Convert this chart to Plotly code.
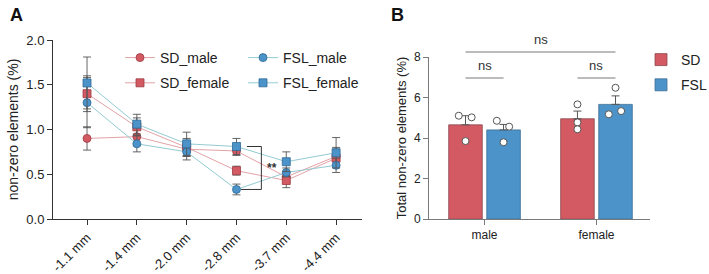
import plotly.graph_objects as go

# ---------------- data ----------------
positions = ["-1.1 mm", "-1.4 mm", "-2.0 mm", "-2.8 mm", "-3.7 mm", "-4.4 mm"]

sd_male = [0.90, 0.92, 0.78, 0.76, 0.47, 0.70]
sd_male_err = [0.13, 0.10, 0.08, 0.05, 0.06, 0.10]
sd_female = [1.40, 1.03, 0.80, 0.54, 0.43, 0.68]
sd_female_err = [0.20, 0.10, 0.10, 0.05, 0.08, 0.10]
fsl_male = [1.30, 0.84, 0.75, 0.33, 0.52, 0.60]
fsl_male_err = [0.28, 0.09, 0.09, 0.06, 0.05, 0.08]
fsl_female = [1.52, 1.06, 0.84, 0.81, 0.64, 0.74]
fsl_female_err = [0.29, 0.11, 0.13, 0.09, 0.11, 0.17]

sexes = ["male", "female"]
sd_total = [4.65, 4.95]
sd_total_err = [0.45, 0.38]
fsl_total = [4.40, 5.66]
fsl_total_err = [0.27, 0.42]
sd_points = [[5.10, 5.02, 3.85], [5.66, 4.77, 4.43]]
fsl_points = [[4.85, 4.56, 3.79], [6.48, 5.17, 5.33]]

# ---------------- styles ----------------
RED = "#d35a63"
RED_DARK = "#9c3a42"
RED_LINE = "#e3a2a7"
BLUE = "#4b93c9"
BLUE_DARK = "#2f6a96"
BLUE_LINE = "#93cbd3"
AX = "#333333"
AXB = "#7a7a7a"
FONT = "Liberation Sans, Arial, sans-serif"

fig = go.Figure()

def line_series(name, y, err, color, dark, lcolor, symbol, legend):
    fig.add_trace(go.Scatter(
        x=positions, y=y, name=name, mode="lines+markers", legendgroup=name,
        line=dict(color=lcolor, width=1),
        marker=dict(symbol=symbol, size=8, color=color, line=dict(color=dark, width=0.8)),
        error_y=dict(type="data", array=err, visible=True, color="#555555", thickness=0.9, width=4),
        xaxis="x", yaxis="y", legend=legend,
    ))

line_series("SD_male", sd_male, sd_male_err, RED, RED_DARK, RED_LINE, "circle", "legend")
line_series("SD_female", sd_female, sd_female_err, RED, RED_DARK, RED_LINE, "square", "legend")
line_series("FSL_male", fsl_male, fsl_male_err, BLUE, BLUE_DARK, BLUE_LINE, "circle", "legend2")
line_series("FSL_female", fsl_female, fsl_female_err, BLUE, BLUE_DARK, BLUE_LINE, "square", "legend2")

# ---- panel B bars ----
BW = 0.30
OFF = 0.17
xi = list(range(len(sexes)))
sd_x = [i - OFF for i in xi]
fsl_x = [i + OFF for i in xi]

fig.add_trace(go.Bar(
    x=sd_x, y=sd_total, width=BW, name="SD", legendgroup="SD",
    marker=dict(color=RED, line=dict(color="#8a4a50", width=0.8)),
    error_y=dict(type="data", array=sd_total_err, arrayminus=[0, 0], color="#555555", thickness=1, width=4),
    xaxis="x2", yaxis="y2", legend="legend3",
))
fig.add_trace(go.Bar(
    x=fsl_x, y=fsl_total, width=BW, name="FSL", legendgroup="FSL",
    marker=dict(color=BLUE, line=dict(color="#3f6f94", width=0.8)),
    error_y=dict(type="data", array=fsl_total_err, arrayminus=[0, 0], color="#555555", thickness=1, width=4),
    xaxis="x2", yaxis="y2", legend="legend3",
))

jitter = [[-0.06, 0.055, 0.0], [0.0, 0.0, 0.0]]
jitter_f = [[-0.06, 0.05, 0.0], [0.0, -0.06, 0.05]]
px, py = [], []
for i in xi:
    for k, v in enumerate(sd_points[i]):
        px.append(sd_x[i] + jitter[i][k]); py.append(v)
    for k, v in enumerate(fsl_points[i]):
        px.append(fsl_x[i] + jitter_f[i][k]); py.append(v)
fig.add_trace(go.Scatter(
    x=px, y=py, mode="markers", showlegend=False,
    marker=dict(symbol="circle", size=7, color="white", line=dict(color="#555555", width=1)),
    xaxis="x2", yaxis="y2",
))

# ---------------- layout ----------------
W, H = 709, 274
def fx(p): return p / W
def fy(p): return 1 - p / H

fig.update_layout(
    width=W, height=H, margin=dict(l=0, r=0, t=0, b=0, autoexpand=False),
    paper_bgcolor="white", plot_bgcolor="white",
    font=dict(family=FONT, color="#222222"),
    showlegend=True,
    xaxis=dict(
        domain=[fx(53), fx(362)], range=[-0.683, 5.52], type="category",
        showline=True, linecolor=AX, linewidth=1, ticks="outside", ticklen=5, tickcolor=AX,
        tickangle=-45, tickfont=dict(size=13), showgrid=False, zeroline=False, automargin=False,
        anchor="y",
    ),
    yaxis=dict(
        domain=[fy(219), fy(40)], range=[0, 2.0], tickvals=[0, 0.5, 1.0, 1.5, 2.0],
        ticktext=["0.0", "0.5", "1.0", "1.5", "2.0"],
        showline=True, linecolor=AX, linewidth=1, ticks="outside", ticklen=5, tickcolor=AX,
        tickfont=dict(size=13), showgrid=False, zeroline=False, automargin=False,
        title=dict(text="non-zero elements (%)", font=dict(size=14), standoff=4),
        anchor="x",
    ),
    xaxis2=dict(
        domain=[fx(429), fx(650)], range=[-0.496, 1.478],
        tickvals=xi, ticktext=sexes,
        showline=True, linecolor=AXB, linewidth=1, ticks="outside", ticklen=5, tickcolor=AXB,
        tickfont=dict(size=12), showgrid=False, zeroline=False, automargin=False,
        anchor="y2",
    ),
    yaxis2=dict(
        domain=[fy(219), fy(57)], range=[0, 8], tickvals=[0, 2, 4, 6, 8],
        showline=True, linecolor=AXB, linewidth=1, ticks="outside", ticklen=5, tickcolor=AXB,
        tickfont=dict(size=12), showgrid=False, zeroline=False, automargin=False,
        title=dict(text="Total non-zero elements (%)", font=dict(size=13), standoff=4),
        anchor="x2",
    ),
    legend=dict(x=fx(120), y=fy(42), xanchor="left", yanchor="top", font=dict(size=14),
                bgcolor="rgba(0,0,0,0)", tracegroupgap=4, itemwidth=30),
    legend2=dict(x=fx(243), y=fy(42), xanchor="left", yanchor="top", font=dict(size=14),
                 bgcolor="rgba(0,0,0,0)", tracegroupgap=4, itemwidth=30),
    legend3=dict(x=fx(641), y=fy(44), xanchor="left", yanchor="top", font=dict(size=14),
                 bgcolor="rgba(0,0,0,0)", tracegroupgap=4),
)

# significance bracket panel A
br = dict(type="line", xref="x", yref="y", line=dict(color=AX, width=1))
fig.add_shape(**br, x0=3.21, x1=3.5, y0=fsl_female[3], y1=fsl_female[3])
fig.add_shape(**br, x0=3.5, x1=3.5, y0=fsl_male[3], y1=fsl_female[3])
fig.add_shape(**br, x0=3.09, x1=3.5, y0=fsl_male[3], y1=fsl_male[3])
fig.add_annotation(x=3.72, y=(fsl_male[3] + fsl_female[3]) / 2, xref="x", yref="y", text="<b>**</b>",
                   showarrow=False, font=dict(size=12, color=AX))

# significance lines panel B
sl = dict(type="line", xref="x2", yref="paper", line=dict(color=AXB, width=1.2))
fig.add_shape(**sl, x0=sd_x[0], x1=fsl_x[1], y0=fy(52), y1=fy(52))
fig.add_shape(**sl, x0=sd_x[0], x1=fsl_x[0], y0=fy(78), y1=fy(78))
fig.add_shape(**sl, x0=sd_x[1], x1=fsl_x[1], y0=fy(78), y1=fy(78))
for xa, yp in [((sd_x[0] + fsl_x[1]) / 2, 39), (xi[0], 65), (xi[1], 65)]:
    fig.add_annotation(x=xa, y=fy(yp), xref="x2", yref="paper", text="ns", showarrow=False,
                       xanchor="center", yanchor="middle",
                       font=dict(size=13, color="#333333"))

# panel labels
fig.add_annotation(x=fx(8), y=fy(3), xref="paper", yref="paper", text="<b>A</b>", showarrow=False,
                   xanchor="left", yanchor="top", font=dict(size=18, color="#111111"))
fig.add_annotation(x=fx(389), y=fy(3), xref="paper", yref="paper", text="<b>B</b>", showarrow=False,
                   xanchor="left", yanchor="top", font=dict(size=18, color="#111111"))

fig.write_html("out.html")
